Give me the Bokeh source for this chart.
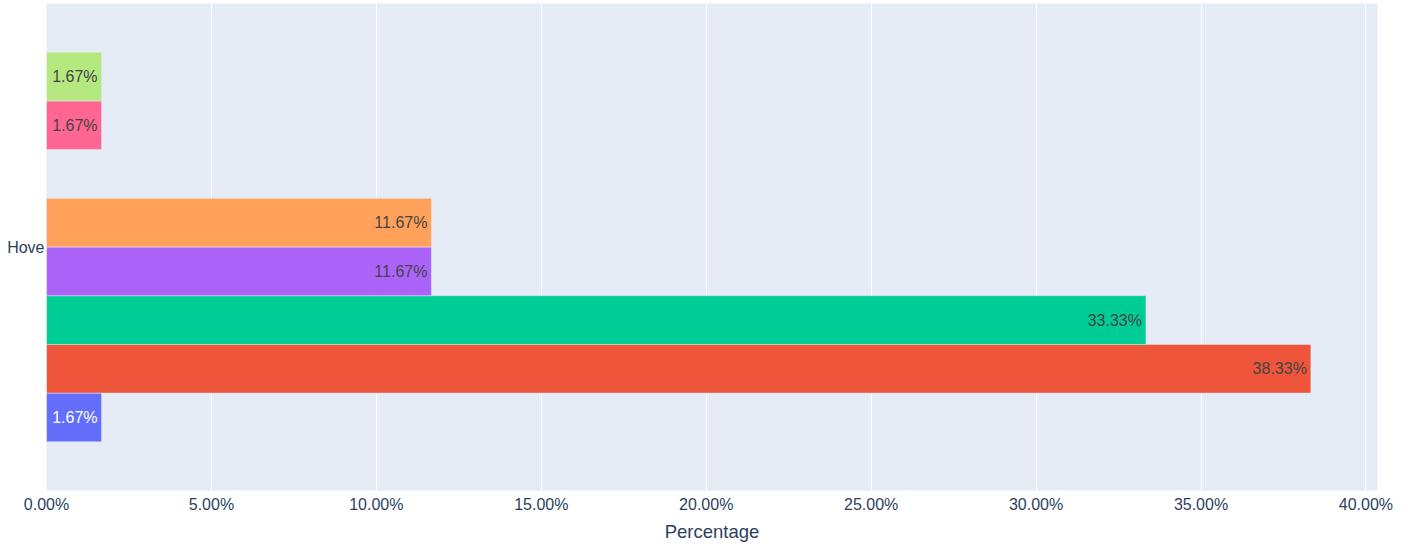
from bokeh.plotting import figure
from bokeh.models import FactorRange, Range1d, ColumnDataSource, PrintfTickFormatter, FixedTicker
from bokeh.transform import dodge
from bokeh.core.properties import value
from bokeh.embed import file_html
from bokeh.resources import INLINE

# ---- data ----
categories = ["Hove"]
percentages = [1.67, 38.33, 33.33, 11.67, 11.67, 0.0, 1.67, 1.67]
bar_colors = ["#636EFA", "#EF553B", "#00CC96", "#AB63FA", "#FFA15A", "#19D3F3", "#FF6692", "#B6E880"]
x_ticks = [0, 5, 10, 15, 20, 25, 30, 35, 40]
x_title = "Percentage"

FONT = "Liberation Sans"
AXIS_COLOR = "#2a3f5f"


def is_light(hex_color):
    h = hex_color.lstrip("#")
    r, g, b = (int(h[i:i + 2], 16) for i in (0, 2, 4))
    return (r * 299 + g * 587 + b * 114) / 1000 >= 128


p = figure(
    width=1394, height=544,
    y_range=FactorRange(factors=categories),
    x_range=Range1d(0, 40.35),
    output_backend="svg", toolbar_location=None,
    min_border_left=46, min_border_right=17, min_border_top=3, min_border_bottom=50,
)
p.background_fill_color = "#E5ECF6"
p.border_fill_color = "white"
p.outline_line_color = None

n = len(percentages)
bar_h = 0.8 / n
for i, (v, c) in enumerate(zip(percentages, bar_colors)):
    off = -0.4 + bar_h * (i + 0.5)
    src = ColumnDataSource(dict(cat=[categories[0]], val=[v], label=[f"{v:.2f}%"]))
    p.hbar(y=dodge("cat", off, range=p.y_range), left=0, right="val", height=bar_h,
           fill_color=c, line_color="#E5ECF6", line_width=0.5, source=src)
    if v > 0:
        p.text(x="val", y=dodge("cat", off, range=p.y_range), text="label", source=src,
               text_align="right", text_baseline="middle", x_offset=-4,
               text_font=value(FONT), text_font_size="16px",
               text_color="#444444" if is_light(c) else "#ffffff")

# grid
p.xgrid.ticker = FixedTicker(ticks=x_ticks)
p.xgrid.grid_line_color = "white"
p.xgrid.grid_line_width = 1
p.ygrid.visible = False

# x axis
xa = p.xaxis[0]
xa.ticker = FixedTicker(ticks=x_ticks)
xa.formatter = PrintfTickFormatter(format="%.2f%%")
xa.axis_line_color = None
xa.major_tick_line_color = None
xa.minor_tick_line_color = None
xa.major_tick_out = 0
xa.major_label_standoff = 5
xa.major_label_text_font = FONT
xa.major_label_text_font_size = "16px"
xa.major_label_text_color = AXIS_COLOR
xa.axis_label = x_title
xa.axis_label_text_font = FONT
xa.axis_label_text_font_size = "18.5px"
xa.axis_label_text_font_style = "normal"
xa.axis_label_text_color = AXIS_COLOR
xa.axis_label_standoff = 5

# y axis
ya = p.yaxis[0]
ya.axis_line_color = None
ya.major_tick_line_color = None
ya.minor_tick_line_color = None
ya.major_tick_out = 0
ya.major_tick_in = 0
ya.major_label_standoff = 2
ya.major_label_text_font = FONT
ya.major_label_text_font_size = "16px"
ya.major_label_text_color = AXIS_COLOR

open("out.html", "w").write(file_html(p, INLINE))
